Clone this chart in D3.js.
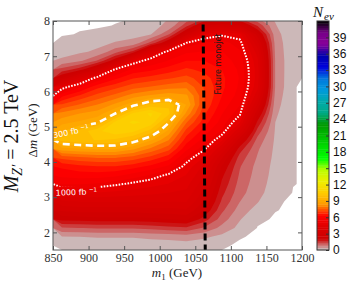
<!DOCTYPE html>
<html>
<head>
<meta charset="utf-8">
<script src="https://cdn.jsdelivr.net/npm/d3@7"></script>
<style>
body { margin: 0; background: #fff; }
svg { display: block; }
</style>
</head>
<body>
<div class="ex__contour"></div>
<script>
// grid the N_ev values were read on
var m1Grid = [850, 875, 900, 925, 950, 975, 1000, 1025, 1050, 1075, 1100, 1125, 1150, 1175, 1200];
var dmGrid = [1.5, 1.75, 2, 2.25, 2.5, 2.75, 3, 3.25, 3.5, 3.75, 4, 4.25, 4.5, 4.75, 5, 5.25, 5.5, 5.75, 6, 6.25, 6.5, 6.75, 7, 7.25, 7.5, 7.75, 8];

// one row per m1 column, going from dm = 1.5 up to dm = 8
var nev = [
  [0.2, 0.4, 1.2, 2.25, 3.0, 3.7, 4.6, 5.5, 6.0, 6.4, 7.3, 8.7, 9.8, 9.2, 8.7, 8.1, 7.2, 6.2, 4.8, 2.6, 1.4, 0.5, 0.25, 0.1, 0, 0, 0],
  [0.2, 0.42, 1.25, 2.3, 3.1, 3.8, 4.6, 5.5, 6.1, 6.6, 7.5, 8.8, 10.0, 9.8, 8.9, 8.4, 7.6, 6.8, 5.8, 3.9, 1.9, 0.75, 0.35, 0.15, 0.03, 0, 0],
  [0.2, 0.45, 1.3, 2.35, 3.1, 3.8, 4.6, 5.4, 6.1, 6.7, 7.6, 8.9, 10.1, 10.4, 9.2, 8.6, 8.0, 7.3, 6.6, 5.5, 2.9, 1.3, 0.5, 0.3, 0.06, 0, 0],
  [0.2, 0.45, 1.3, 2.35, 3.1, 3.8, 4.5, 5.2, 6.0, 6.7, 7.6, 8.9, 10.0, 10.8, 10.6, 9.3, 8.5, 7.7, 7.0, 6.2, 5.2, 2.4, 1.1, 0.45, 0.25, 0.025, 0],
  [0.2, 0.45, 1.3, 2.35, 3.1, 3.8, 4.4, 5.0, 5.7, 6.5, 7.4, 8.5, 9.6, 10.6, 11.0, 10.6, 9.1, 8.2, 7.4, 6.7, 6.0, 4.6, 1.8, 0.55, 0.3, 0.12, 0.01],
  [0.2, 0.5, 1.4, 2.4, 3.2, 3.8, 4.3, 4.8, 5.4, 6.2, 7.0, 7.9, 8.9, 9.9, 10.8, 11.0, 9.8, 8.5, 7.6, 6.9, 6.2, 5.5, 3.9, 1.4, 0.4, 0.3, 0.2],
  [0.2, 0.55, 1.5, 2.5, 3.2, 3.8, 4.2, 4.6, 5.0, 5.8, 6.5, 7.3, 8.0, 8.7, 9.35, 10.2, 10.0, 8.7, 7.8, 7.1, 6.5, 5.9, 5.4, 2.6, 1.2, 0.5, 0.4],
  [0.25, 0.6, 1.6, 2.6, 3.3, 3.8, 4.1, 4.35, 4.6, 4.9, 5.4, 6.0, 6.5, 7.0, 7.6, 8.3, 8.8, 8.5, 7.9, 7.3, 6.8, 6.3, 5.8, 5.15, 2.8, 1.5, 0.9],
  [0.15, 0.5, 1.2, 1.9, 2.5, 2.9, 3.2, 3.5, 3.8, 4.1, 4.6, 5.2, 5.7, 6.1, 6.5, 6.8, 7.1, 7.2, 7.1, 6.9, 6.6, 6.3, 5.9, 5.5, 4.7, 2.8, 1.3],
  [0.04, 0.3, 0.7, 1.05, 1.35, 1.6, 1.8, 2.0, 2.2, 2.5, 3.0, 3.8, 4.7, 5.4, 5.7, 5.9, 6.1, 6.3, 6.4, 6.4, 6.3, 6.1, 5.9, 5.6, 5.0, 3.2, 1.6],
  [0, 0.03, 0.3, 0.45, 0.65, 0.85, 1.0, 1.1, 1.2, 1.3, 1.5, 1.9, 2.7, 3.8, 4.7, 5.2, 5.5, 5.7, 5.8, 5.85, 5.8, 5.7, 5.5, 5.3, 4.8, 2.9, 1.4],
  [0, 0, 0.01, 0.06, 0.25, 0.45, 0.55, 0.6, 0.65, 0.7, 0.8, 0.9, 1.1, 1.5, 2.0, 2.6, 3.3, 3.9, 4.3, 4.4, 4.4, 4.3, 4.0, 3.5, 2.7, 1.6, 0.7],
  [0, 0, 0, 0, 0.025, 0.04, 0.2, 0.25, 0.28, 0.3, 0.32, 0.34, 0.36, 0.38, 0.42, 0.5, 0.6, 0.7, 0.8, 0.8, 0.8, 0.8, 0.75, 0.7, 0.6, 0.45, 0.35],
  [0, 0, 0, 0, 0, 0, 0.01, 0.025, 0.025, 0.025, 0.025, 0.025, 0.025, 0.025, 0.025, 0.025, 0.025, 0.025, 0.025, 0.04, 0.05, 0.05, 0.05, 0.05, 0.05, 0.05, 0.05],
  [0, 0, 0, 0, 0, 0, 0, 0, 0, 0, 0, 0, 0, 0, 0, 0, 0, 0, 0, 0, 0, 0, 0, 0, 0, 0, 0]
];

var xTicks = [850, 900, 950, 1000, 1050, 1100, 1150, 1200];
var yTicks = [2, 3, 4, 5, 6, 7, 8];
var cbTicks = [0, 3, 6, 9, 12, 15, 18, 21, 24, 27, 30, 33, 36, 39];
var cbMax = 42;
var levelStep = 0.42;

var lumiNames = ["300 fb", "1000 fb"];
var lumiLevels = [9.3, 5.1];

var monojetM1 = [1061, 1064];
var monojetDm = [7.9, 1.5];

// nipy_spectral segments (used reversed)
var nipyR = [[0,0],[0.05,0.4667],[0.1,0.5333],[0.15,0],[0.6,0],[0.65,0.7333],[0.7,0.9333],[0.75,1],[0.85,1],[0.9,0.8667],[0.95,0.8],[1,0.8]];
var nipyG = [[0,0],[0.2,0],[0.25,0.4667],[0.3,0.6],[0.35,0.6667],[0.4,0.6667],[0.45,0.6],[0.5,0.7333],[0.55,0.8667],[0.6,1],[0.65,1],[0.7,0.9333],[0.75,0.8],[0.8,0.6],[0.85,0],[0.95,0],[1,0.8]];
var nipyB = [[0,0],[0.05,0.5333],[0.1,0.6],[0.15,0.6667],[0.2,0.8667],[0.3,0.8667],[0.35,0.6667],[0.4,0.5333],[0.45,0],[0.95,0],[1,0.8]];

function chan(seg, t) {
    for (var k = 1; k < seg.length; k++) {
        if (t <= seg[k][0]) {
            var a = seg[k-1], b = seg[k];
            return a[1] + (b[1] - a[1]) * (t - a[0]) / (b[0] - a[0]);
        }
    }
    return seg[seg.length-1][1];
}
function nevColor(v) {
    var t = 1 - Math.max(0, Math.min(1, v / cbMax));
    return d3.rgb(255 * chan(nipyR, t), 255 * chan(nipyG, t), 255 * chan(nipyB, t)).toString();
}

var W = 353, H = 290;
var plot = {left: 53, right: 302, top: 21, bottom: 250};

var x = d3.scaleLinear().domain([850, 1200]).range([plot.left, plot.right]);
var y = d3.scaleLinear().domain([1.5, 8]).range([plot.bottom, plot.top]);
var cb = d3.scaleLinear().domain([0, cbMax]).range([plot.bottom, plot.top]);

var nx = m1Grid.length, ny = dmGrid.length;
var gi = d3.scaleLinear().domain([0, nx - 1]).range([m1Grid[0], m1Grid[nx - 1]]);
var gj = d3.scaleLinear().domain([0, ny - 1]).range([dmGrid[0], dmGrid[ny - 1]]);

var values = new Array(nx * ny);
for (var j = 0; j < ny; j++) {
    for (var i = 0; i < nx; i++) {
        values[j * nx + i] = nev[i][j];
    }
}

var thresholds = [0.02];
for (var k = 1; k < 100; k++) thresholds.push(k * levelStep);

var svg = d3.select(".ex__contour")
    .append("svg")
    .attr("width", W)
    .attr("height", H);

var defs = svg.append("defs");
defs.append("clipPath").attr("id", "plotclip")
    .append("rect")
    .attr("x", plot.left).attr("y", plot.top)
    .attr("width", plot.right - plot.left).attr("height", plot.bottom - plot.top);

var proj = d3.geoTransform({
    point: function(px, py) { this.stream.point(x(gi(px)), y(gj(py))); }
});
var path = d3.geoPath(proj);

var contours = d3.contours().size([nx, ny]).thresholds(thresholds);
var bands = contours(values);

svg.append("g")
    .attr("clip-path", "url(#plotclip)")
    .selectAll("path")
    .data(bands)
    .enter()
        .append("path")
        .attr("d", path)
        .attr("fill", function(d, k) { return k === 0 ? nevColor(levelStep / 2) : nevColor((k + 0.5) * levelStep); });

// luminosity contour lines, open at the plot edges
function onEdge(a, b) {
    return (a[0] === 0 && b[0] === 0) || (a[1] === 0 && b[1] === 0) ||
           (a[0] === nx && b[0] === nx) || (a[1] === ny && b[1] === ny);
}
function linePieces(t) {
    var mp = contours.contour(values, t);
    var pieces = [];
    mp.coordinates.forEach(function(poly) {
        poly.forEach(function(ring) {
            var pts = ring.slice(0, ring.length - 1);
            var n = pts.length, start = 0;
            for (var s = 0; s < n; s++) {
                if (onEdge(pts[s], pts[(s + 1) % n])) { start = (s + 1) % n; break; }
            }
            var cur = [];
            for (var q = 0; q < n; q++) {
                var a = pts[(start + q) % n], b = pts[(start + q + 1) % n];
                if (onEdge(a, b)) {
                    if (cur.length > 1) pieces.push(cur);
                    cur = [];
                    continue;
                }
                if (cur.length === 0) cur.push(a);
                cur.push(b);
            }
            if (cur.length > 1) pieces.push(cur);
        });
    });
    return pieces;
}

var gridLine = d3.line()
    .x(function(p) { return x(gi(p[0])); })
    .y(function(p) { return y(gj(p[1])); });

var labelG = svg.append("g");
var lbl300 = labelG.append("text")
    .attr("transform", "translate(71.5,134.5) rotate(-12)")
    .attr("text-anchor", "middle")
    .style("font-family", "DejaVu Sans")
    .style("font-size", "8px")
    .style("fill", "#fff")
    .text(lumiNames[0] + " ");
lbl300.append("tspan").attr("dy", -3).style("font-size", "5.5px").text("\u22121");

var lbl1000 = labelG.append("text")
    .attr("transform", "translate(76.5,195) rotate(-2)")
    .attr("text-anchor", "middle")
    .style("font-family", "DejaVu Sans")
    .style("font-size", "8px")
    .style("fill", "#fff")
    .text(lumiNames[1] + " ");
lbl1000.append("tspan").attr("dy", -3).style("font-size", "5.5px").text("\u22121");

var mask = defs.append("mask").attr("id", "lblmask");
mask.append("rect").attr("x", 0).attr("y", 0).attr("width", W).attr("height", H).attr("fill", "#fff");
[lbl300, lbl1000].forEach(function(t) {
    var bb = t.node().getBBox();
    mask.append("rect")
        .attr("transform", t.attr("transform"))
        .attr("x", bb.x - 3).attr("y", bb.y - 1)
        .attr("width", bb.width + 6).attr("height", bb.height + 2)
        .attr("fill", "#000");
});

var lineG = svg.append("g")
    .attr("clip-path", "url(#plotclip)")
    .append("g")
    .attr("mask", "url(#lblmask)");

lineG.selectAll("path.l300")
    .data(linePieces(lumiLevels[0]))
    .enter()
        .append("path")
        .attr("class", "l300")
        .attr("d", gridLine)
        .attr("fill", "none")
        .attr("stroke", "#fff")
        .attr("stroke-width", 2.6)
        .attr("stroke-dasharray", "7,4.5");

lineG.selectAll("path.l1000")
    .data(linePieces(lumiLevels[1]))
    .enter()
        .append("path")
        .attr("class", "l1000")
        .attr("d", gridLine)
        .attr("fill", "none")
        .attr("stroke", "#fff")
        .attr("stroke-width", 2)
        .attr("stroke-dasharray", "1.6,1.4");

labelG.raise();

// future monojet reach
var mono = monojetM1.map(function(m, k) { return [m, monojetDm[k]]; });
svg.append("path")
    .attr("d", d3.line().x(function(d) { return x(d[0]); }).y(function(d) { return y(d[1]); })(mono))
    .attr("fill", "none")
    .attr("stroke", "#000")
    .attr("stroke-width", 3)
    .attr("stroke-dasharray", "7,4");

svg.append("text")
    .attr("transform", "translate(220.5,64) rotate(-90)")
    .attr("text-anchor", "middle")
    .style("font-family", "DejaVu Sans")
    .style("font-size", "8px")
    .style("fill", "#1a1a1a")
    .text("Future monojet");

// axes
var serif = "Liberation Serif";
function styleAxis(g) {
    g.select(".domain").remove();
    g.selectAll("line").attr("stroke", "#555");
    g.selectAll("text").style("font-family", serif).style("font-size", "12px").style("fill", "#333");
}
svg.append("g").attr("transform", "translate(0," + plot.bottom + ")")
    .call(d3.axisBottom(x).tickValues(xTicks).tickSize(-4).tickPadding(3.5).tickFormat(d3.format("d")))
    .call(styleAxis);
svg.append("g").attr("transform", "translate(0," + plot.top + ")")
    .call(d3.axisTop(x).tickValues(xTicks).tickSize(-4).tickFormat(""))
    .call(styleAxis);
svg.append("g").attr("transform", "translate(" + plot.left + ",0)")
    .call(d3.axisLeft(y).tickValues(yTicks).tickSize(-4).tickPadding(3).tickFormat(d3.format("d")))
    .call(styleAxis);
svg.append("g").attr("transform", "translate(" + plot.right + ",0)")
    .call(d3.axisRight(y).tickValues(yTicks).tickSize(-4).tickFormat(""))
    .call(styleAxis);

svg.append("rect")
    .attr("x", plot.left).attr("y", plot.top)
    .attr("width", plot.right - plot.left).attr("height", plot.bottom - plot.top)
    .attr("fill", "none").attr("stroke", "#555").attr("stroke-width", 1);

// axis labels
var xl = svg.append("text")
    .attr("x", 177).attr("y", 277)
    .attr("text-anchor", "middle")
    .style("font-family", serif).style("font-size", "13px").style("fill", "#222");
xl.append("tspan").style("font-style", "italic").text("m");
xl.append("tspan").attr("dy", 3).style("font-size", "9px").text("1");
xl.append("tspan").attr("dy", -3).text(" (GeV)");

var yl = svg.append("text")
    .attr("transform", "translate(37,130.5) rotate(-90)")
    .attr("text-anchor", "middle")
    .style("font-family", serif).style("font-size", "13px").style("fill", "#222");
yl.append("tspan").text("\u0394");
yl.append("tspan").style("font-style", "italic").text("m");
yl.append("tspan").text(" (GeV)");

var big = svg.append("text")
    .attr("transform", "translate(18,136) rotate(-90)")
    .attr("text-anchor", "middle")
    .style("font-family", serif).style("font-size", "20px").style("fill", "#111");
big.append("tspan").style("font-style", "italic").text("M");
big.append("tspan").attr("dy", 4).style("font-size", "14px").style("font-style", "italic").text("Z\u2032");
big.append("tspan").attr("dy", -4).text(" = 2.5 TeV");

// colorbar
var cbX = 317, cbW = 12;
var cbG = svg.append("g");
cbG.selectAll("rect")
    .data(d3.range(0, 100))
    .enter()
        .append("rect")
        .attr("x", cbX)
        .attr("width", cbW)
        .attr("y", function(k) { return cb((k + 1) * levelStep); })
        .attr("height", function(k) { return cb(k * levelStep) - cb((k + 1) * levelStep) + 0.4; })
        .attr("fill", function(k) { return nevColor((k + 0.5) * levelStep); });
cbG.append("rect")
    .attr("x", cbX).attr("y", plot.top)
    .attr("width", cbW).attr("height", plot.bottom - plot.top)
    .attr("fill", "none").attr("stroke", "#333").attr("stroke-width", 1);

svg.append("g").attr("transform", "translate(" + (cbX + cbW) + ",0)")
    .call(d3.axisRight(cb).tickValues(cbTicks).tickSize(-3).tickPadding(4))
    .call(function(g) {
        g.select(".domain").remove();
        g.selectAll("line").attr("stroke", "#333");
        g.selectAll("text").style("font-family", "Liberation Sans").style("font-size", "12px").style("fill", "#111");
    });

var nt = svg.append("text")
    .attr("x", 313).attr("y", 16.5)
    .style("font-family", serif).style("font-style", "italic").style("font-size", "15px").style("fill", "#111");
nt.append("tspan").text("N");
nt.append("tspan").attr("dy", 3).attr("dx", 1).style("font-size", "11px").text("ev");
</script>
</body>
</html>
